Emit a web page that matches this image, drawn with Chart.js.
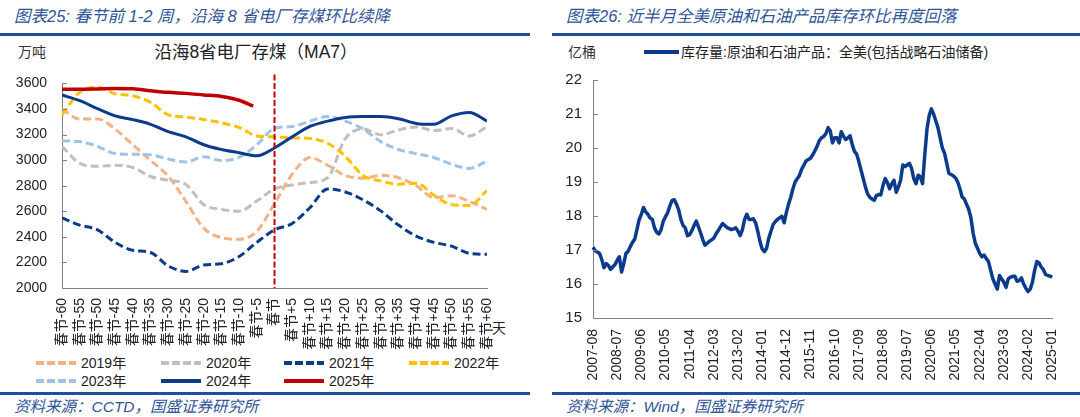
<!DOCTYPE html>
<html><head><meta charset="utf-8">
<script src="https://cdn.jsdelivr.net/npm/chart.js@4"></script>
<style>
html,body{margin:0;padding:0;}
body{width:1080px;height:417px;background:#fff;overflow:hidden;position:relative;font-family:"Liberation Sans","Noto Sans CJK SC",sans-serif;color:#222;}
.abs{position:absolute;white-space:nowrap;line-height:20px;}
.title{font-style:italic;color:#2F5597;font-size:16.5px;}
.src{font-style:italic;color:#2F5597;font-size:15.5px;}
.rule{position:absolute;height:3px;background:#1F4E9A;}
.unit{font-size:14px;color:#333;}
.leg{position:absolute;white-space:nowrap;font-size:14px;line-height:20px;height:20px;display:flex;align-items:center;}
.leg svg{margin-right:5px;}
canvas{position:absolute;}
</style>
</head><body>
<div class="abs title" style="left:14px;top:6px;">图表25: 春节前 1-2 周，沿海 8 省电厂存煤环比续降</div>
<div class="rule" style="left:0;top:33px;width:530px;"></div>
<div class="abs unit" style="left:18px;top:42px;">万吨</div>
<div class="abs" style="left:146px;top:42px;width:220px;text-align:center;font-size:17.5px;">沿海8省电厂存煤（MA7）</div>
<div class="abs" style="left:492px;top:318px;font-size:14px;">天</div>
<div id="legL"></div>
<div class="rule" style="left:0;top:392px;width:530px;"></div>
<div class="abs src" style="left:14px;top:397px;">资料来源：CCTD，国盛证券研究所</div>

<div class="abs title" style="left:566px;top:6px;">图表26: 近半月全美原油和石油产品库存环比再度回落</div>
<div class="rule" style="left:552px;top:33px;width:528px;"></div>
<div class="abs unit" style="left:568px;top:42px;">亿桶</div>
<div class="leg" style="left:644px;top:42px;"><svg width="35" height="20"><line x1="0" y1="10" x2="35" y2="10" stroke="#0B3C8C" stroke-width="4"/></svg><span style="margin-left:-3px">库存量:原油和石油产品：全美(包括战略石油储备)</span></div>
<div class="rule" style="left:552px;top:392px;width:528px;"></div>
<div class="abs src" style="left:566px;top:397px;">资料来源：Wind，国盛证券研究所</div>

<canvas id="c1" width="540" height="300" style="left:0;top:60px;width:540px;height:300px;"></canvas>
<canvas id="c2" width="528" height="330" style="left:552px;top:60px;width:528px;height:330px;"></canvas>

<script>
// ---------- Left chart data ----------
const days = [-60,-55,-50,-45,-40,-35,-30,-25,-20,-15,-10,-5,0,5,10,15,20,25,30,35,40,45,50,55,60];
const y2019 = [3400,3322,3322,3243,3120,2997,2874,2677,2468,2394,2381,2443,2660,2890,3020,2960,2879,2859,2881,2862,2800,2706,2721,2677,2615];
const y2020 = [3108,2975,2952,2960,2942,2872,2842,2810,2652,2615,2600,2680,2775,2805,2825,2862,3169,3243,3199,3236,3260,3231,3248,3189,3263];
const y2021 = [2549,2492,2455,2357,2295,2278,2172,2130,2180,2190,2246,2357,2455,2505,2628,2775,2751,2689,2603,2492,2406,2357,2327,2271,2263];
const y2022 = [3354,3530,3570,3519,3504,3452,3354,3337,3317,3292,3255,3189,3182,3174,3169,3132,3030,2879,2837,2812,2820,2726,2652,2645,2763];
const y2023 = [3150,3145,3108,3051,3046,3041,3009,2985,3026,2997,3021,3120,3248,3263,3305,3341,3305,3243,3145,3083,3051,3021,2967,2935,2992];
const y2024 = [3509,3465,3403,3346,3317,3280,3223,3182,3120,3083,3058,3034,3095,3182,3263,3305,3334,3341,3341,3324,3287,3280,3346,3373,3305];
const days2025 = [-60,-55,-50,-45,-40,-35,-30,-25,-20,-15,-10,-6];
const y2025 = [3555,3555,3557,3560,3558,3543,3530,3522,3510,3498,3468,3422];
const seriesNames = ['2019年','2020年','2021年','2022年','2023年','2024年','2025年'];
const seriesColors = ['#F4B183','#BFBFBF','#0B3C8C','#FFC000','#9DC3E6','#0B3C8C','#C00000'];
const seriesDashed = [true,true,true,true,true,false,false];

// ---------- Right chart data ----------
const monthStart = [2007, 8];
const stockValues = [
17.08,16.98,16.94,16.9,16.72,16.48,16.6,16.55,16.43,16.5,16.57,16.7,16.8,16.35,16.6,16.9,16.96,17.1,17.23,17.32,
17.6,17.89,18.05,18.25,18.12,18.05,17.94,17.9,17.65,17.52,17.47,17.6,17.85,17.98,18.1,18.3,18.46,18.48,18.35,18.18,
17.9,17.72,17.65,17.42,17.45,17.57,17.72,17.85,17.68,17.5,17.3,17.14,17.2,17.26,17.3,17.35,17.48,17.57,17.68,17.78,
17.72,17.66,17.63,17.6,17.62,17.65,17.55,17.42,17.6,17.9,18.05,17.9,17.9,17.92,17.8,17.55,17.25,17.03,16.95,17.05,
17.35,17.55,17.75,17.84,17.9,17.95,17.99,17.8,18.1,18.35,18.55,18.8,19.0,19.1,19.2,19.38,19.5,19.62,19.66,19.7,
19.8,19.92,20.05,20.22,20.3,20.34,20.42,20.6,20.5,20.15,20.3,20.3,20.15,20.48,20.35,20.25,20.3,20.36,20.1,19.9,
19.82,19.6,19.35,19.1,18.85,18.65,18.55,18.5,18.46,18.6,18.63,18.62,18.9,19.1,18.98,18.8,18.95,19.05,18.7,18.85,
19.05,19.5,19.45,19.5,19.55,19.4,19.1,18.95,19.2,19.15,18.95,19.8,20.55,20.95,21.15,21.0,20.8,20.6,20.3,20.0,
19.85,19.55,19.25,19.22,19.18,19.12,19.0,18.8,18.56,18.5,18.35,18.2,17.95,17.5,17.2,17.05,16.9,16.8,16.85,16.75,
16.66,16.4,16.15,16.0,15.85,16.25,16.15,16.05,15.9,16.15,16.2,16.22,16.23,16.08,16.1,16.18,16.0,15.88,15.78,15.85,
16.05,16.4,16.66,16.62,16.5,16.42,16.28,16.25,16.23,16.2];
const rightTickLabels = ['2007-08','2008-07','2009-06','2010-05','2011-04','2012-03','2013-02','2014-01','2014-12','2015-11','2016-10','2017-09','2018-08','2019-07','2020-06','2021-05','2022-04','2023-03','2024-02','2025-01'];
const rightYTicks = [15,16,17,18,19,20,21,22];

// month categories
const months = [];
for (let i = 0; i < stockValues.length; i++) {
  const m0 = monthStart[1] - 1 + i;
  const yy = monthStart[0] + Math.floor(m0 / 12);
  const mm = (m0 % 12) + 1;
  months.push(yy + '-' + String(mm).padStart(2, '0'));
}

const FONT = '"Liberation Sans","Noto Sans CJK SC",sans-serif';

// inward tick marks plugin
const inTicks = {
  id: 'inTicks',
  afterDraw(chart, args, opts) {
    const s = chart.scales.y, ctx = chart.ctx;
    ctx.save();
    ctx.strokeStyle = opts.color || '#888';
    ctx.lineWidth = 1;
    s.ticks.forEach(t => {
      const y = Math.round(s.getPixelForValue(t.value)) + 0.5;
      ctx.beginPath();
      ctx.moveTo(s.right, y);
      ctx.lineTo(s.right + (opts.len || 5), y);
      ctx.stroke();
    });
    ctx.restore();
  }
};

// spring festival marker line
const springLine = {
  id: 'springLine',
  afterDatasetsDraw(chart) {
    const x = chart.scales.x.getPixelForValue(0);
    const a = chart.chartArea, ctx = chart.ctx;
    ctx.save();
    ctx.strokeStyle = '#C00000';
    ctx.lineWidth = 2;
    ctx.setLineDash([6, 2.5]);
    ctx.beginPath();
    ctx.moveTo(x, a.top - 9);
    ctx.lineTo(x, a.bottom);
    ctx.stroke();
    ctx.restore();
  }
};

// ---------- Left chart ----------
const leftSeries = [y2019, y2020, y2021, y2022, y2023, y2024, y2025];
const leftDatasets = [];
for (let k = leftSeries.length - 1; k >= 0; k--) {
  const xs = k === 6 ? days2025 : days;
  leftDatasets.push({
    label: seriesNames[k],
    data: leftSeries[k].map((v, i) => ({ x: xs[i], y: v })),
    borderColor: seriesColors[k],
    backgroundColor: seriesColors[k],
    borderWidth: k === 6 ? 3.5 : 3,
    borderDash: seriesDashed[k] ? [8, 4] : [],
    pointRadius: 0,
    cubicInterpolationMode: 'monotone',
    fill: false
  });
}

new Chart(document.getElementById('c1'), {
  type: 'line',
  data: { datasets: leftDatasets },
  options: {
    responsive: false,
    animation: false,
    devicePixelRatio: 1,
    layout: { padding: { top: 12, right: 53, left: 0, bottom: 0 } },
    plugins: { legend: { display: false }, tooltip: { enabled: false }, inTicks: { color: '#808080', len: 5 } },
    scales: {
      x: {
        type: 'linear', min: -60, max: 60,
        afterFit(s) { s.height = 72; },
        grid: { display: false, drawTicks: false },
        border: { display: true, color: '#808080', width: 1 },
        ticks: {
          stepSize: 5, autoSkip: false, minRotation: 90, maxRotation: 90, padding: 10,
          color: '#222', font: { family: FONT, size: 14 },
          callback: v => v === 0 ? '春节' : (v < 0 ? '春节' + v : '春节+' + v)
        }
      },
      y: {
        min: 2000, max: 3600,
        afterFit(s) { s.width = 62; },
        grid: { display: false, drawTicks: false },
        border: { display: true, color: '#808080', width: 1 },
        ticks: { stepSize: 200, padding: 15, color: '#222', font: { family: FONT, size: 14 }, callback: v => String(v) }
      }
    }
  },
  plugins: [inTicks, springLine]
});

// left legend (HTML)
(function () {
  const cols = [36, 161, 284, 409];
  const rows = [353, 371];
  const host = document.getElementById('legL');
  seriesNames.forEach((name, k) => {
    const d = document.createElement('div');
    d.className = 'leg';
    d.style.left = cols[k % 4] + 'px';
    d.style.top = rows[Math.floor(k / 4)] + 'px';
    const dash = seriesDashed[k] ? 'stroke-dasharray="8 3"' : '';
    d.innerHTML = '<svg width="40" height="20"><line x1="0" y1="10" x2="40" y2="10" stroke="' + seriesColors[k] + '" stroke-width="4" ' + dash + '/></svg><span>' + name + '</span>';
    host.appendChild(d);
  });
})();

// ---------- Right chart ----------
new Chart(document.getElementById('c2'), {
  type: 'line',
  data: {
    labels: months,
    datasets: [{
      label: '库存量:原油和石油产品：全美(包括战略石油储备)',
      data: stockValues,
      borderColor: '#0B3C8C',
      borderWidth: 3.5,
      pointRadius: 0,
      tension: 0,
      borderJoinStyle: 'round',
      fill: false
    }]
  },
  options: {
    responsive: false,
    animation: false,
    devicePixelRatio: 1,
    layout: { padding: { top: 12.7, right: 19, left: 0, bottom: 0 } },
    plugins: { legend: { display: false }, tooltip: { enabled: false }, inTicks: { color: '#808080', len: 5 } },
    scales: {
      x: {
        type: 'category', offset: false,
        afterFit(s) { s.height = 72; },
        grid: { display: false, drawTicks: false },
        border: { display: true, color: '#808080', width: 1 },
        ticks: {
          autoSkip: false, minRotation: 90, maxRotation: 90, padding: 11,
          color: '#222', font: { family: FONT, size: 14 },
          callback: function (v, i) { const l = months[i]; return rightTickLabels.includes(l) ? l : ''; }
        }
      },
      y: {
        min: 15, max: 22,
        afterFit(s) { s.width = 41; },
        afterBuildTicks(s) { s.ticks = rightYTicks.map(v => ({ value: v })); },
        grid: { display: false, drawTicks: false },
        border: { display: true, color: '#808080', width: 1 },
        ticks: { padding: 11, color: '#222', font: { family: FONT, size: 15 } }
      }
    }
  },
  plugins: [inTicks]
});
</script>
</body></html>
